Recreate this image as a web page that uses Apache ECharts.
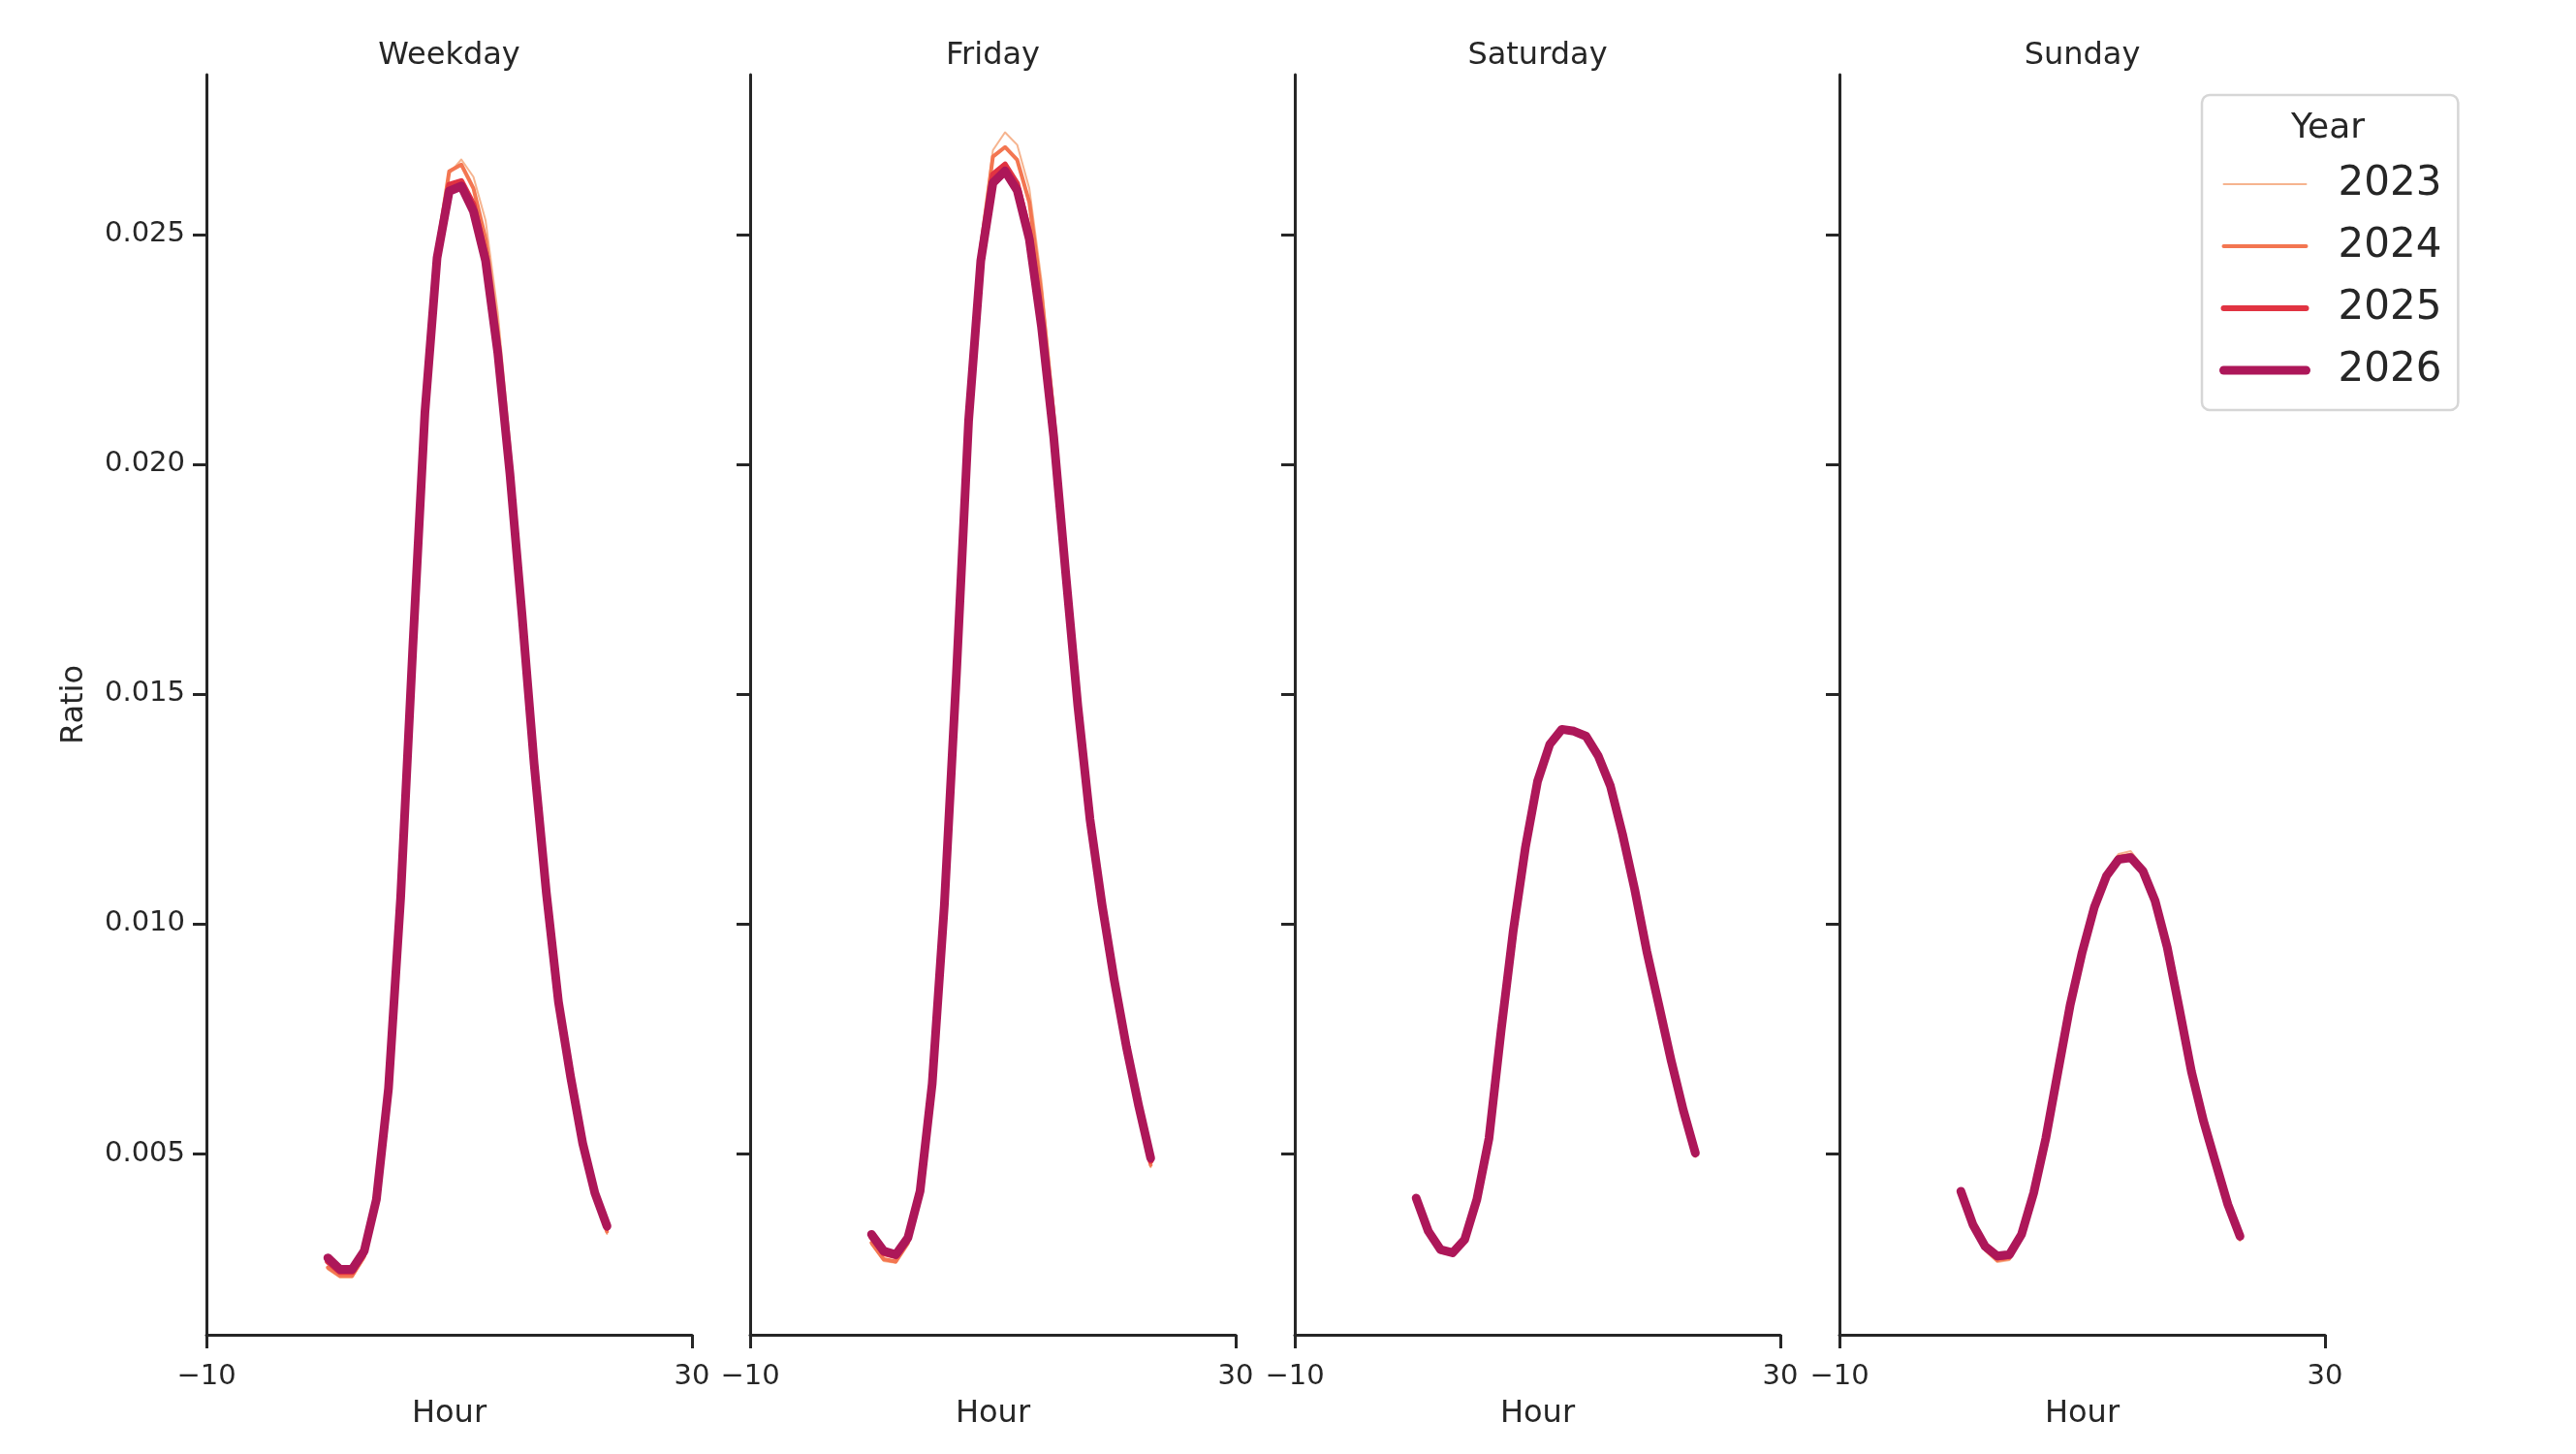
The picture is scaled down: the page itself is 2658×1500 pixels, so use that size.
<!DOCTYPE html>
<html>
<head>
<meta charset="utf-8">
<title>Hourly ratio by day type</title>
<script src="https://cdn.jsdelivr.net/npm/echarts@6/dist/echarts.min.js"></script>
<style>
  html, body { margin: 0; padding: 0; background: #fff; }
  #chart { width: 2658px; height: 1500px; }
</style>
</head>
<body>
<div id="chart"></div>
<script>
// hours of the day
const hours = [0, 1, 2, 3, 4, 5, 6, 7, 8, 9, 10, 11, 12, 13, 14, 15, 16, 17, 18, 19, 20, 21, 22, 23];

const panels = ['Weekday', 'Friday', 'Saturday', 'Sunday'];
const years = ['2023', '2024', '2025', '2026'];

const xTicks = [-10, 30];
const yTicks = [0.005, 0.010, 0.015, 0.020, 0.025];

// Weekday
const weekday2023 = [0.00248, 0.00230, 0.00230, 0.00272, 0.00388, 0.00630, 0.01048, 0.01598, 0.02120, 0.02465, 0.02632, 0.02663, 0.02625, 0.02530, 0.02330, 0.02050, 0.01720, 0.01375, 0.01082, 0.00838, 0.00668, 0.00518, 0.00408, 0.00325];
const weekday2024 = [0.00252, 0.00234, 0.00234, 0.00276, 0.00392, 0.00634, 0.01050, 0.01598, 0.02118, 0.02465, 0.02637, 0.02652, 0.02600, 0.02490, 0.02290, 0.02015, 0.01700, 0.01365, 0.01078, 0.00835, 0.00668, 0.00518, 0.00410, 0.00330];
const weekday2025 = [0.00265, 0.00242, 0.00242, 0.00283, 0.00398, 0.00640, 0.01055, 0.01600, 0.02115, 0.02455, 0.02608, 0.02616, 0.02565, 0.02455, 0.02255, 0.01990, 0.01680, 0.01352, 0.01070, 0.00830, 0.00666, 0.00520, 0.00412, 0.00338];
const weekday2026 = [0.00273, 0.00248, 0.00248, 0.00288, 0.00400, 0.00642, 0.01057, 0.01600, 0.02113, 0.02449, 0.02594, 0.02605, 0.02550, 0.02442, 0.02243, 0.01980, 0.01672, 0.01347, 0.01068, 0.00830, 0.00667, 0.00522, 0.00414, 0.00342];

// Friday
const friday2023 = [0.00302, 0.00266, 0.00262, 0.00302, 0.00408, 0.00642, 0.01036, 0.01552, 0.02112, 0.02475, 0.02683, 0.02722, 0.02695, 0.02600, 0.02400, 0.02130, 0.01805, 0.01500, 0.01240, 0.01042, 0.00872, 0.00722, 0.00592, 0.00470];
const friday2024 = [0.00306, 0.00270, 0.00265, 0.00305, 0.00410, 0.00645, 0.01038, 0.01550, 0.02110, 0.02470, 0.02669, 0.02690, 0.02662, 0.02570, 0.02370, 0.02110, 0.01790, 0.01490, 0.01235, 0.01040, 0.00872, 0.00724, 0.00595, 0.00475];
const friday2025 = [0.00318, 0.00283, 0.00276, 0.00314, 0.00416, 0.00650, 0.01040, 0.01548, 0.02100, 0.02452, 0.02630, 0.02652, 0.02610, 0.02505, 0.02315, 0.02070, 0.01766, 0.01474, 0.01226, 0.01038, 0.00874, 0.00728, 0.00600, 0.00484];
const friday2026 = [0.00324, 0.00288, 0.00280, 0.00317, 0.00418, 0.00652, 0.01040, 0.01545, 0.02095, 0.02442, 0.02612, 0.02638, 0.02596, 0.02490, 0.02300, 0.02062, 0.01762, 0.01473, 0.01227, 0.01040, 0.00877, 0.00732, 0.00605, 0.00490];

// Saturday
const saturday2023 = [0.00398, 0.00325, 0.00284, 0.00278, 0.00309, 0.00398, 0.00534, 0.00770, 0.00988, 0.01170, 0.01315, 0.01395, 0.01428, 0.01424, 0.01412, 0.01368, 0.01302, 0.01196, 0.01074, 0.00938, 0.00820, 0.00700, 0.00590, 0.00492];
const saturday2024 = [0.00400, 0.00328, 0.00287, 0.00281, 0.00311, 0.00399, 0.00533, 0.00769, 0.00986, 0.01168, 0.01312, 0.01392, 0.01425, 0.01421, 0.01410, 0.01366, 0.01301, 0.01195, 0.01075, 0.00939, 0.00821, 0.00701, 0.00592, 0.00496];
const saturday2025 = [0.00402, 0.00330, 0.00290, 0.00283, 0.00312, 0.00400, 0.00533, 0.00768, 0.00985, 0.01166, 0.01310, 0.01390, 0.01423, 0.01419, 0.01408, 0.01365, 0.01300, 0.01195, 0.01075, 0.00940, 0.00822, 0.00703, 0.00594, 0.00499];
const saturday2026 = [0.00403, 0.00331, 0.00291, 0.00284, 0.00313, 0.00400, 0.00533, 0.00768, 0.00985, 0.01166, 0.01310, 0.01390, 0.01423, 0.01419, 0.01408, 0.01365, 0.01300, 0.01195, 0.01075, 0.00940, 0.00822, 0.00703, 0.00595, 0.00501];

// Sunday
const sunday2023 = [0.00410, 0.00336, 0.00288, 0.00264, 0.00268, 0.00316, 0.00410, 0.00532, 0.00680, 0.00826, 0.00944, 0.01044, 0.01114, 0.01152, 0.01158, 0.01124, 0.01056, 0.00952, 0.00815, 0.00675, 0.00566, 0.00474, 0.00383, 0.00310];
const sunday2024 = [0.00413, 0.00340, 0.00292, 0.00268, 0.00272, 0.00318, 0.00411, 0.00532, 0.00679, 0.00824, 0.00941, 0.01040, 0.01109, 0.01146, 0.01150, 0.01119, 0.01053, 0.00950, 0.00815, 0.00676, 0.00568, 0.00476, 0.00386, 0.00314];
const sunday2025 = [0.00416, 0.00343, 0.00296, 0.00274, 0.00277, 0.00322, 0.00413, 0.00533, 0.00678, 0.00822, 0.00939, 0.01037, 0.01106, 0.01142, 0.01146, 0.01116, 0.01051, 0.00949, 0.00815, 0.00677, 0.00569, 0.00478, 0.00388, 0.00318];
const sunday2026 = [0.00418, 0.00345, 0.00298, 0.00277, 0.00280, 0.00324, 0.00414, 0.00533, 0.00678, 0.00822, 0.00938, 0.01036, 0.01104, 0.01140, 0.01144, 0.01115, 0.01050, 0.00949, 0.00815, 0.00678, 0.00570, 0.00479, 0.00389, 0.00320];

const panelData = [
    [weekday2023, weekday2024, weekday2025, weekday2026],
    [friday2023, friday2024, friday2025, friday2026],
    [saturday2023, saturday2024, saturday2025, saturday2026],
    [sunday2023, sunday2024, sunday2025, sunday2026]
];

// seaborn "rocket" colours, light to dark, line width grows with year
const colors = ['#f6b48f', '#f37651', '#e13342', '#ad1759'];
const widths = [2, 4, 6, 9];

const ink = '#262626';
const font = 'DejaVu Sans';
const gridLefts = [213, 774, 1336, 1898];
const gridWidth = 501;
const gridTop = 77;
const gridHeight = 1300;

const chart = echarts.init(document.getElementById('chart'), null, { renderer: 'canvas' });

const grids = [], xAxes = [], yAxes = [], titles = [], series = [];

panels.forEach(function (name, i) {
    grids.push({ left: gridLefts[i], top: gridTop, width: gridWidth, height: gridHeight });

    titles.push({
        text: name,
        left: gridLefts[i] + gridWidth / 2,
        top: 42,
        textAlign: 'center',
        padding: 0,
        textStyle: { fontFamily: font, fontSize: 32, fontWeight: 'normal', color: ink }
    });

    xAxes.push({
        type: 'value',
        gridIndex: i,
        min: -10,
        max: 30,
        name: 'Hour',
        nameLocation: 'middle',
        nameGap: 66,
        nameTextStyle: { fontFamily: font, fontSize: 32, color: ink },
        axisLine: { show: true, onZero: false, lineStyle: { color: ink, width: 3 } },
        axisTick: { show: true, inside: false, length: 14, lineStyle: { color: ink, width: 3 }, customValues: xTicks },
        axisLabel: {
            fontFamily: font, fontSize: 29, color: ink, margin: 29,
            customValues: xTicks,
            formatter: function (v) { return v < 0 ? '\u2212' + Math.abs(v) : String(v); }
        },
        splitLine: { show: false }
    });

    yAxes.push({
        type: 'value',
        gridIndex: i,
        min: 0.001056,
        max: 0.028476,
        name: i === 0 ? 'Ratio' : '',
        nameLocation: 'middle',
        nameGap: 120,
        nameTextStyle: { fontFamily: font, fontSize: 32, color: ink },
        axisLine: { show: true, onZero: false, lineStyle: { color: ink, width: 3 } },
        axisTick: { show: true, inside: false, length: 14, lineStyle: { color: ink, width: 3 }, customValues: yTicks },
        axisLabel: {
            show: i === 0,
            fontFamily: font, fontSize: 29, color: ink, margin: 22,
            customValues: yTicks,
            formatter: function (v) { return v.toFixed(3); }
        },
        splitLine: { show: false }
    });

    years.forEach(function (year, k) {
        series.push({
            type: 'line',
            name: year,
            xAxisIndex: i,
            yAxisIndex: i,
            data: hours.map(function (h, j) { return [h, panelData[i][k][j]]; }),
            symbol: 'none',
            showSymbol: false,
            z: 2 + k,
            color: colors[k],
            lineStyle: { color: colors[k], width: widths[k], cap: 'round', join: 'round' },
            emphasis: { disabled: true }
        });
    });
});

// legend title inside the legend box
titles.push({
    text: 'Year',
    left: 2402,
    top: 115,
    textAlign: 'center',
    padding: 0,
    textStyle: { fontFamily: font, fontSize: 36, fontWeight: 'normal', color: ink }
});

const option = {
    backgroundColor: '#ffffff',
    animation: false,
    title: titles,
    grid: grids,
    xAxis: xAxes,
    yAxis: yAxes,
    legend: {
        data: years.map(function (year, k) {
            return {
                name: year,
                itemStyle: { opacity: 0 },
                lineStyle: { color: colors[k], width: widths[k], cap: 'round' }
            };
        }),
        orient: 'vertical',
        left: 2272,
        top: 98,
        padding: [71, 17, 20, 18],
        itemWidth: 85,
        itemHeight: 20,
        itemGap: 22,
        selectedMode: false,
        borderColor: '#d6d6d6',
        borderWidth: 2.5,
        borderRadius: 8,
        backgroundColor: 'rgba(255,255,255,0.8)',
        textStyle: { fontFamily: font, fontSize: 42, lineHeight: 42, color: ink, padding: [0, 0, 0, 28] }
    },
    series: series
};

chart.setOption(option);
</script>
</body>
</html>
